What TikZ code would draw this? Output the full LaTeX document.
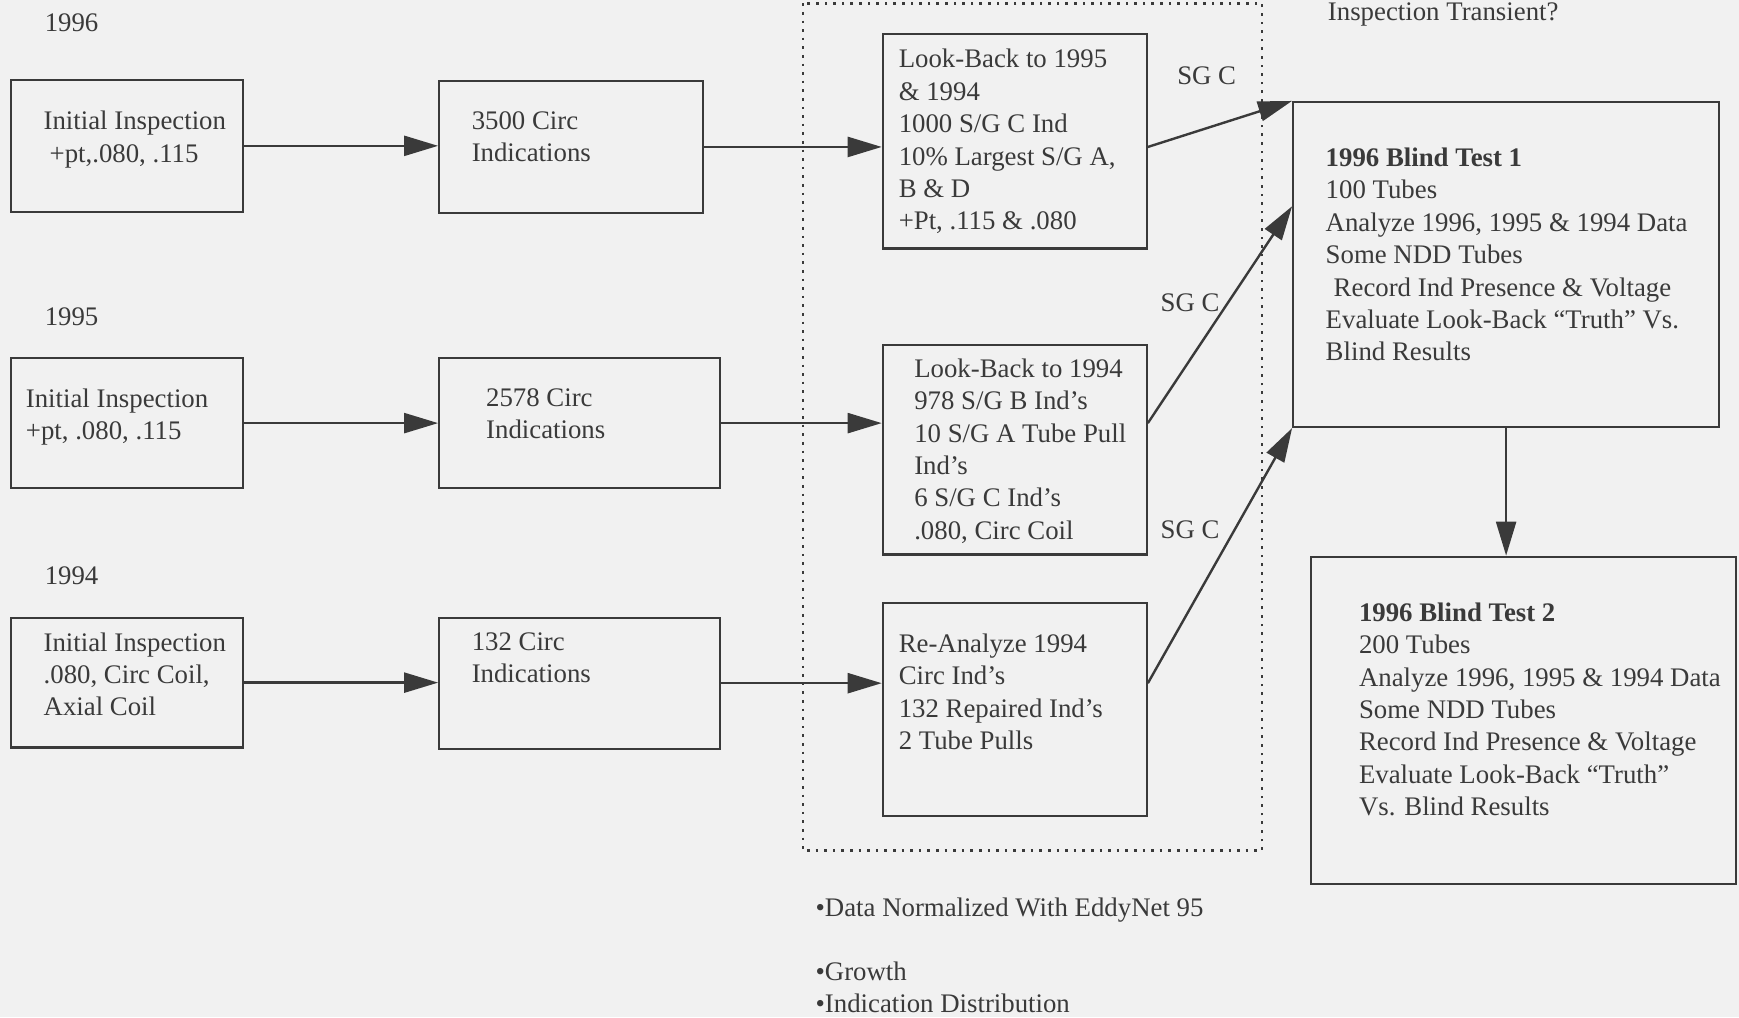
\documentclass[tikz,border=0pt]{standalone}
\usepackage{fontspec}
\setmainfont{Liberation Serif}
\usetikzlibrary{arrows.meta,fit}
\definecolor{ink}{HTML}{3A3A3A}
\definecolor{paper}{HTML}{F1F1F1}
\tikzset{
  frame/.style={draw=ink, line width=1.1pt, inner sep=0pt},
  txt/.style={anchor=north west, align=left, inner sep=0pt, text=ink,
    font=\fontsize{13.4}{16.2}\selectfont},
  tag/.style={inner sep=0pt, text=ink, font=\fontsize{13.4}{16.2}\selectfont},
  flow/.style={draw=ink, line width=1.2pt, -{Triangle[length=17pt,width=10pt]}}
}
\begin{document}
\begin{tikzpicture}[x=0.5545pt,y=-0.5545pt]
\fill[paper] (0,0) rectangle (1568,917);
\useasboundingbox (0,0) rectangle (1568,917);
% look-back area
\draw[ink, line width=1.3pt, dash pattern=on 1.3pt off 3pt] (724,3) rectangle (1138,767);
% years
\node[txt] (y96) at (40,12) {1996};
\node[txt] (y95) at (40,277) {1995};
\node[txt] (y94) at (40,511) {1994};
% 1996 row
\node[frame, fit={(10,72) (219,191)}] (ini96) {};
\node[txt] (ini96t) at (39,100) {Initial Inspection\\\hspace*{3pt}+pt,.080, .115};
\node[frame, fit={(396,73) (634,192)}] (circ96) {};
\node[txt] (circ96t) at (425,100) {3500 Circ\\Indications};
\node[frame, fit={(796,31) (1034,224)}] (look96) {};
\node[txt] (look96t) at (810,44) {Look-Back to 1995\\\& 1994\\1000 S/G C Ind\\10\% Largest S/G A,\\B \& D\\+Pt, .115 \& .080};
% 1995 row
\node[frame, fit={(10,323) (219,440)}] (ini95) {};
\node[txt] (ini95t) at (23,350) {Initial Inspection\\+pt, .080, .115};
\node[frame, fit={(396,323) (649,440)}] (circ95) {};
\node[txt] (circ95t) at (438,350) {2578 Circ\\Indications};
\node[frame, fit={(796,311) (1034,500)}] (look95) {};
\node[txt] (look95t) at (824,323) {Look-Back to 1994\\978 S/G B Ind's\\10 S/G A Tube Pull\\Ind's\\6 S/G C Ind's\\.080, Circ Coil};
% 1994 row
\node[frame, fit={(10,557) (219,674)}] (ini94) {};
\node[txt] (ini94t) at (39,570) {Initial Inspection\\.080, Circ Coil,\\Axial Coil};
\node[frame, fit={(396,557) (649,675)}] (circ94) {};
\node[txt] (circ94t) at (425,570) {132 Circ\\Indications};
\node[frame, fit={(796,544) (1034,736)}] (reana94) {};
\node[txt] (reana94t) at (810,571) {Re-Analyze 1994\\Circ Ind's\\132 Repaired Ind's\\2 Tube Pulls};
% blind tests
\node[txt] (trans) at (1197,2) {Inspection Transient?};
\node[frame, fit={(1166,92) (1550,385)}] (bt1) {};
\node[txt] (bt1t) at (1195,133) {\textbf{1996 Blind Test 1}\\100 Tubes\\Analyze 1996, 1995 \& 1994 Data\\Some NDD Tubes\\\hspace*{4pt}Record Ind Presence \& Voltage\\Evaluate Look-Back ``Truth'' Vs.\\Blind Results};
\node[frame, fit={(1182,502) (1565,797)}] (bt2) {};
\node[txt] (bt2t) at (1225,543) {\textbf{1996 Blind Test 2}\\200 Tubes\\Analyze 1996, 1995 \& 1994 Data\\Some NDD Tubes\\Record Ind Presence \& Voltage\\Evaluate Look-Back ``Truth''\\Vs. Blind Results};
% SG C tags
\node[tag] (sg1) at (1088,68) {SG C};
\node[tag] (sg2) at (1073,273) {SG C};
\node[tag] (sg3) at (1073,478) {SG C};
% notes
\node[txt] (note1) at (735,809) {\textbullet Data Normalized With EddyNet 95};
\node[txt] (note2) at (735,867) {\textbullet Growth};
\node[txt] (note3) at (735,896) {\textbullet Indication Distribution};
% connectors
\draw[flow] (ini96.east) -- (ini96.east -| circ96.west);
\draw[flow] (circ96.east) -- (circ96.east -| look96.west);
\draw[flow] (ini95.east) -- (ini95.east -| circ95.west);
\draw[flow] (circ95.east) -- (circ95.east -| look95.west);
\draw[flow] (ini94.east) -- (ini94.east -| circ94.west);
\draw[flow] (circ94.east) -- (circ94.east -| reana94.west);
\draw[flow] (look96.east |- circ96.east) -- (bt1.north west);
\draw[flow] (look95.east |- circ95.east) -- ([shift={(0,95)}]bt1.north west);
\draw[flow] (reana94.east |- circ94.east) -- (bt1.south west);
\draw[flow] (bt1.south) -- (bt1.south |- bt2.north);
\end{tikzpicture}
\end{document}
